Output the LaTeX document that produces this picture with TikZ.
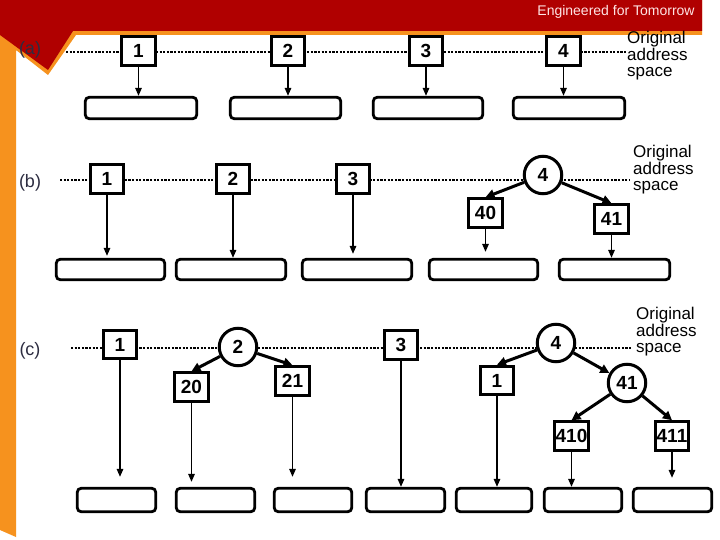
\documentclass[tikz,border=0pt]{standalone}
\usepackage{fontspec}
\setmainfont{Liberation Sans}
\usetikzlibrary{arrows.meta}
\definecolor{bannerred}{RGB}{176,0,0}
\definecolor{bannerorange}{RGB}{246,146,30}
\definecolor{labelgray}{RGB}{45,45,65}
\definecolor{bannertext}{RGB}{255,228,228}
\begin{document}
\begin{tikzpicture}[x=1pt,y=-1pt,
  numbox/.style={draw, line width=3pt, fill=white, minimum width=33.5pt, minimum height=28.5pt, inner sep=0pt, font=\fontsize{19}{19}\selectfont\bfseries},
  numcirc/.style={draw, circle, line width=3pt, fill=white, minimum size=37.5pt, inner sep=0pt, font=\fontsize{19}{19}\selectfont\bfseries},
  slot/.style={draw, line width=2.8pt, rounded corners=4pt, inner sep=0pt},
  addr/.style={dash pattern=on 2.2pt off 1.4pt, line width=2.4pt},
  down/.style={line width=1.5pt, -{Triangle[length=8pt,width=6.5pt]}},
  split/.style={line width=3pt, -{Triangle[length=9pt,width=9pt]}},
  origin/.style={anchor=west, inner sep=0pt, align=left, font=\fontsize{17}{15.5}\selectfont},
  rowlab/.style={text=labelgray, inner sep=0pt, font=\fontsize{18}{18}\selectfont}
]
\useasboundingbox (0,0) rectangle (720,540);
\fill[white] (0,0) rectangle (720,540);
% banner
\fill[bannerorange] (0,0) -- (702,0) -- (702,35) -- (76,35) -- (48,75) -- (16,50) -- (16,537) -- (0,530) -- cycle;
\fill[bannerred] (0,0) -- (702,0) -- (702,31) -- (73,31) -- (48,70) -- (0,35) -- cycle;
\node[text=bannertext, inner sep=0pt, font=\fontsize{14}{14}\selectfont] (brand) at (616,12) {Engineered for Tomorrow};

% row labels
\node[rowlab] (la) at (30,50) {(a)};
\node[rowlab] (lb) at (30,183) {(b)};
\node[rowlab] (lc) at (30,351) {(c)};

% address-space lines
\coordinate (aL) at (66,52);  \coordinate (aR) at (627,52);
\coordinate (bL) at (60,180); \coordinate (bR) at (630,180);
\coordinate (cL) at (71,348); \coordinate (cR) at (632,348);
\draw[addr] (aL) -- (aR);
\draw[addr] (bL) -- (bR);
\draw[addr] (cL) -- (cR);

\node[origin] (oa) at (627,55.5) {Original\\address\\space};
\node[origin] (ob) at (633,169.5) {Original\\address\\space};
\node[origin] (oc) at (636,331.5) {Original\\address\\space};

% ---------- row (a)
\node[numbox] (a1) at (138.5,51) {1};
\node[numbox] (a2) at (288,51) {2};
\node[numbox] (a3) at (426,51) {3};
\node[numbox] (a4) at (563.5,51) {4};
\node[slot, minimum width=111.5pt, minimum height=21.5pt] (ra1) at (141,108) {};
\node[slot, minimum width=110.5pt, minimum height=21.5pt] (ra2) at (285.5,108) {};
\node[slot, minimum width=109.5pt, minimum height=21.5pt] (ra3) at (428,108) {};
\node[slot, minimum width=111.5pt, minimum height=21.5pt] (ra4) at (569,108) {};
\draw[down] (a1.south) -- (a1.south |- ra1.north);
\draw[down] (a2.south) -- (a2.south |- ra2.north);
\draw[down] (a3.south) -- (a3.south |- ra3.north);
\draw[down] (a4.south) -- (a4.south |- ra4.north);

% ---------- row (b)
\node[numbox] (b1) at (107,179) {1};
\node[numbox] (b2) at (233,179) {2};
\node[numbox] (b3) at (353,179) {3};
\node[numcirc] (b4) at (543,175) {4};
\node[numbox] (b40) at (485.5,213) {40};
\node[numbox] (b41) at (611.5,219) {41};
\node[slot, minimum width=108.5pt, minimum height=20.5pt] (rb1) at (110.5,269.5) {};
\node[slot, minimum width=109.5pt, minimum height=20.5pt] (rb2) at (231,269.5) {};
\node[slot, minimum width=109.5pt, minimum height=20.5pt] (rb3) at (357,269.5) {};
\node[slot, minimum width=108.5pt, minimum height=20.5pt] (rb4) at (483.5,269.5) {};
\node[slot, minimum width=110.5pt, minimum height=20.5pt] (rb5) at (614.5,269.5) {};
\draw[split] (b4) -- (b40.north);
\draw[split] (b4) -- (b41.north);
\draw[down, shorten >=2pt] (b1.south) -- (b1.south |- rb1.north);
\draw[down] (b2.south) -- (b2.south |- rb2.north);
\draw[down, shorten >=4pt] (b3.south) -- (b3.south |- rb3.north);
\draw[down, shorten >=6pt] (b40.south) -- (b40.south |- rb4.north);
\draw[down] (b41.south) -- (b41.south |- rb5.north);

% ---------- row (c)
\node[numbox] (c1) at (120,344.5) {1};
\node[numcirc] (c2) at (238,347) {2};
\node[numbox] (c20) at (191.5,387) {20};
\node[numbox] (c21) at (292.5,381) {21};
\node[numbox] (c3) at (401,345) {3};
\node[numcirc] (c4) at (556,343) {4};
\node[numbox] (c1b) at (497,380.5) {1};
\node[numcirc] (c41) at (627,383) {41};
\node[numbox] (c410) at (571.5,436) {410};
\node[numbox] (c411) at (672,436) {411};
\node[slot, minimum width=78.5pt, minimum height=23.5pt] (rc1) at (116.5,500) {};
\node[slot, minimum width=78.5pt, minimum height=23.5pt] (rc2) at (215.5,500) {};
\node[slot, minimum width=77.5pt, minimum height=23.5pt] (rc3) at (313,500) {};
\node[slot, minimum width=78.5pt, minimum height=23.5pt] (rc4) at (405.5,500) {};
\node[slot, minimum width=75.5pt, minimum height=23.5pt] (rc5) at (494,500) {};
\node[slot, minimum width=77.5pt, minimum height=23.5pt] (rc6) at (583,500) {};
\node[slot, minimum width=78.5pt, minimum height=23.5pt] (rc7) at (672.5,500) {};
\draw[split] (c2) -- (c20.north);
\draw[split] (c2) -- (c21.north);
\draw[split] (c4) -- (c1b.north);
\draw[split] (c4) -- (c41);
\draw[split] (c41) -- (c410.north);
\draw[split] (c41) -- (c411.north);
\draw[down, shorten >=10pt] (c1.south) -- (c1.south |- rc1.north);
\draw[down, shorten >=5pt] (c20.south) -- (c20.south |- rc2.north);
\draw[down, shorten >=10pt] (c21.south) -- (c21.south |- rc3.north);
\draw[down] (c3.south) -- (c3.south |- rc4.north);
\draw[down] (c1b.south) -- (c1b.south |- rc5.north);
\draw[down] (c410.south) -- (c410.south |- rc6.north);
\draw[down, shorten >=9pt] (c411.south) -- (c411.south |- rc7.north);
\end{tikzpicture}
\end{document}
